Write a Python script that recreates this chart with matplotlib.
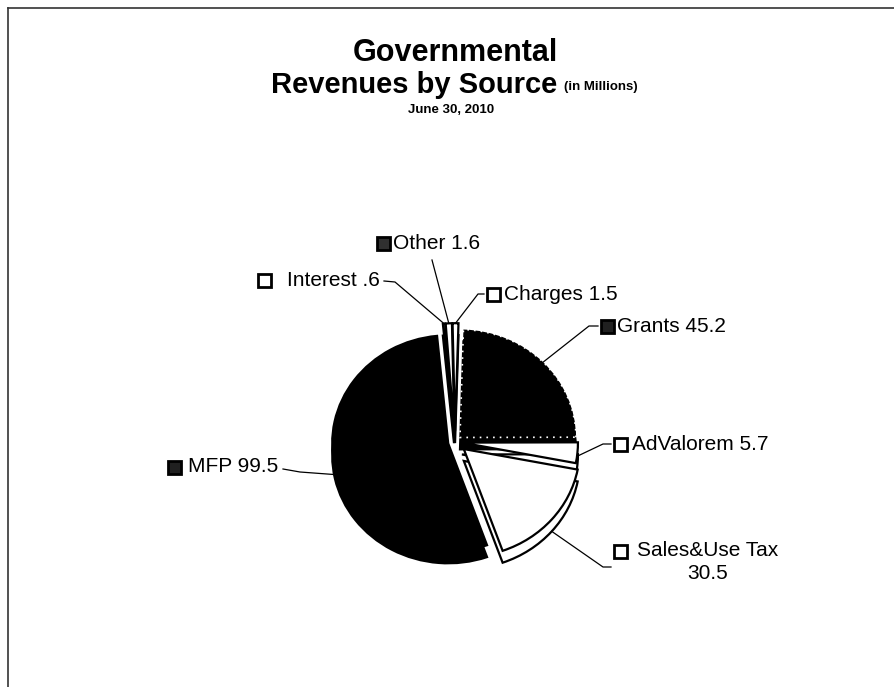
import numpy as np
import matplotlib.pyplot as plt
from matplotlib.patches import Rectangle
from matplotlib.lines import Line2D

plt.rcParams['font.family'] = ['Liberation Sans', 'DejaVu Sans']

# slices, clockwise from just right of 12 o'clock
labels = ["Grants", "AdValorem", "Sales&Use Tax", "MFP", "Interest", "Other", "Charges"]
values = [45.2, 5.7, 30.5, 99.5, 0.6, 1.6, 1.5]
value_text = ["45.2", "5.7", "30.5", "99.5", ".6", "1.6", "1.5"]
colors = ["black", "white", "white", "black", "white", "white", "white"]
explode = [0.06, 0.06, 0.10, 0.06, 0.10, 0.10, 0.10]

W, H = 894, 687
fig = plt.figure(figsize=(W / 100, H / 100), dpi=100)

# pie centre (pixels from top-left) and radius in pixels
cx, cy = 455, 442
rx, ry = 116, 108
depth = 0.11


def fx(x):
    return x / W


def fy(y):
    return 1 - y / H


ax = fig.add_axes([fx(cx - 2 * rx), fy(cy + 2 * ry), 4 * rx / W, 4 * ry / H])

start = 88.3
# side of the 3d pie, then the top face
side, _ = ax.pie(values, explode=explode, colors=colors, startangle=start,
                 counterclock=False, center=(0, -depth), radius=1, frame=True,
                 wedgeprops=dict(edgecolor='black', linewidth=1.6))
wedges, _ = ax.pie(values, explode=explode, colors=colors, startangle=start,
                   counterclock=False, center=(0, 0), radius=1, frame=True,
                   wedgeprops=dict(edgecolor='black', linewidth=1.6))
ax.axis('off')
ax.set_xlim(-2, 2)
ax.set_ylim(-2, 2)
ax.set_aspect('auto')

# grants has a speckled white edge in the original
wedges[0].set_edgecolor('white')
wedges[0].set_linestyle((0, (1, 3)))
wedges[0].set_linewidth(1.2)

# label layout: (text x, text y, box x, leader elbow x), pixels from top-left
layout = {
    "Grants": (617, 326, 601, 589),
    "AdValorem": (632, 444, 614, 603),
    "Sales&Use Tax": (632, 551, 614, 603),
    "MFP": (188, 467, 168, 300),
    "Interest": (287, 281, 258, 395),
    "Other": (393, 243, 377, None),
    "Charges": (504, 294, 487, 478),
}

box_face = {"Grants": "#202020", "MFP": "#202020", "Other": "#303030"}

for w, lab, val in zip(wedges, labels, value_text):
    tx, ty, bx, ex = layout[lab]
    if lab == "Sales&Use Tax":
        fig.text(fx(tx + 76), fy(ty - 10), f"{lab}\n{val}", ha='center', va='top',
                 fontsize=15, linespacing=1.25)
    else:
        fig.text(fx(tx), fy(ty), f"{lab} {val}", ha='left', va='center', fontsize=15)
    bs = 13
    fig.add_artist(Rectangle((fx(bx), fy(ty + bs / 2)), bs / W, bs / H,
                             transform=fig.transFigure, facecolor=box_face.get(lab, 'white'),
                             edgecolor='black', linewidth=2))

    # leader: from the outer edge at the middle of the wedge
    mid = np.deg2rad((w.theta1 + w.theta2) / 2)
    x0, y0 = w.center
    px = x0 + w.r * np.cos(mid)
    py = y0 + w.r * np.sin(mid) - depth * np.clip(-np.sin(mid) * 3, 0, 1)
    ex_px, ey_px = ax.transData.transform((px, py))
    ey_top = H - ey_px
    if lab == "MFP":
        pts = [(283, ty + 2), (ex, ty + 5), (ex_px, ey_top)]
    elif lab == "Interest":
        pts = [(384, ty), (ex, ty + 1), (ex_px, ey_top)]
    elif lab == "Other":
        pts = [(432, ty + 17), (ex_px, ey_top)]
    elif lab == "Sales&Use Tax":
        pts = [(bx - 3, ty + 16), (ex, ty + 16), (ex_px, ey_top)]
    else:
        pts = [(bx - 3, ty), (ex, ty), (ex_px, ey_top)]
    xs = [fx(p[0]) for p in pts]
    ys = [fy(p[1]) for p in pts]
    fig.add_artist(Line2D(xs, ys, transform=fig.transFigure, color='black', linewidth=0.9))

# titles
fig.text(fx(455), fy(53), "Governmental", ha='center', va='center',
         fontsize=22, fontweight='bold')
fig.text(fx(557), fy(85), "Revenues by Source", ha='right', va='center',
         fontsize=21, fontweight='bold')
fig.text(fx(564), fy(87), "(in Millions)", ha='left', va='center',
         fontsize=9.5, fontweight='bold')
fig.text(fx(451), fy(110), "June 30, 2010", ha='center', va='center',
         fontsize=9.5, fontweight='bold')

# scanned frame: top and left edges
fig.add_artist(Line2D([fx(8), fx(894)], [fy(8), fy(8)], transform=fig.transFigure,
                      color='#333333', linewidth=1.2))
fig.add_artist(Line2D([fx(8), fx(8)], [fy(8), fy(687)], transform=fig.transFigure,
                      color='#333333', linewidth=1.2))

fig.savefig("out.png", dpi=100)
